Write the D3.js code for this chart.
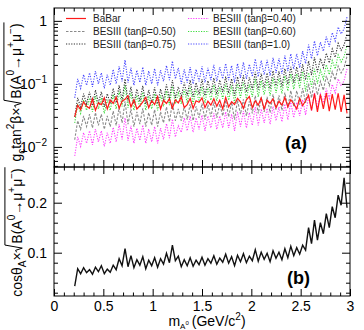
<!DOCTYPE html>
<html>
<head>
<meta charset="utf-8">
<script src="https://cdn.jsdelivr.net/npm/d3@7"></script>
<style>
  body { margin: 0; background: #fff; }
  svg { display: block; font-family: "Liberation Sans", Arial, sans-serif; }
  .axis path.domain { display: none; }
  .axis line { stroke: #000; }
  .axis text { font-size: 14px; fill: #000; font-family: "Liberation Sans", Arial, sans-serif; }
</style>
</head>
<body>
<script>
// mass points (GeV/c^2)
const masses = [
  0.21,0.24,0.27,0.30,0.33,0.36,0.39,0.42,0.45,0.48,
  0.51,0.54,0.57,0.60,0.63,0.66,0.69,0.72,0.75,0.78,
  0.81,0.84,0.87,0.90,0.93,0.96,0.99,1.02,1.05,1.08,
  1.11,1.14,1.17,1.20,1.23,1.26,1.29,1.32,1.35,1.38,
  1.41,1.44,1.47,1.50,1.53,1.56,1.59,1.62,1.65,1.68,
  1.71,1.74,1.77,1.80,1.83,1.86,1.89,1.92,1.95,1.98,
  2.01,2.04,2.07,2.10,2.13,2.16,2.19,2.22,2.25,2.28,
  2.31,2.34,2.37,2.40,2.43,2.46,2.49,2.52,2.55,2.58,
  2.61,2.64,2.67,2.70,2.73,2.76,2.79,2.82,2.85,2.88,
  2.91,2.94,2.97];

const babar = [
  0.030,0.046,0.039,0.052,0.044,0.041,0.058,0.038,0.050,0.047,
  0.060,0.040,0.055,0.049,0.062,0.041,0.053,0.057,0.065,0.043,
  0.056,0.040,0.045,0.052,0.061,0.042,0.054,0.047,0.063,0.040,
  0.055,0.049,0.058,0.041,0.056,0.050,0.062,0.042,0.047,0.059,
  0.041,0.054,0.051,0.060,0.042,0.053,0.046,0.058,0.044,0.055,
  0.040,0.061,0.043,0.052,0.047,0.059,0.052,0.041,0.056,0.063,
  0.042,0.054,0.046,0.060,0.040,0.055,0.049,0.058,0.042,0.053,
  0.046,0.061,0.043,0.056,0.048,0.040,0.059,0.045,0.054,0.066,
  0.038,0.070,0.036,0.068,0.040,0.072,0.037,0.069,0.039,0.071,
  0.036,0.067,0.034];

const besiii040 = [
  0.0072,0.0144,0.0102,0.0168,0.0114,0.018,0.0108,0.0192,0.012,0.018,
  0.0102,0.0168,0.0114,0.0204,0.012,0.0228,0.0132,0.0288,0.0126,0.0216,
  0.0114,0.0198,0.0126,0.0222,0.0114,0.0192,0.012,0.021,0.0114,0.0198,
  0.0132,0.0234,0.0138,0.0276,0.0144,0.0216,0.017,0.029,0.018,0.031,
  0.017,0.029,0.019,0.032,0.018,0.031,0.020,0.034,0.019,0.031,
  0.020,0.036,0.020,0.033,0.018,0.036,0.021,0.037,0.020,0.035,
  0.022,0.043,0.022,0.040,0.024,0.041,0.023,0.044,0.026,0.043,
  0.025,0.048,0.027,0.051,0.029,0.051,0.031,0.056,0.032,0.063,
  0.038,0.072,0.042,0.069,0.050,0.084,0.059,0.098,0.072,0.120,
  0.093,0.113,0.173];

const besiii050 = [
  0.013,0.026,0.019,0.031,0.021,0.033,0.020,0.035,0.022,0.033,
  0.019,0.031,0.021,0.037,0.022,0.042,0.024,0.053,0.023,0.040,
  0.021,0.036,0.023,0.041,0.021,0.035,0.022,0.039,0.021,0.036,
  0.024,0.043,0.025,0.051,0.026,0.040,0.026,0.044,0.027,0.048,
  0.026,0.044,0.029,0.049,0.027,0.047,0.030,0.052,0.029,0.048,
  0.031,0.055,0.030,0.051,0.027,0.055,0.033,0.057,0.031,0.053,
  0.034,0.065,0.034,0.061,0.036,0.062,0.035,0.068,0.039,0.066,
  0.038,0.073,0.042,0.078,0.044,0.078,0.047,0.086,0.050,0.101,
  0.060,0.115,0.067,0.110,0.079,0.134,0.094,0.156,0.115,0.192,
  0.149,0.180,0.276];

const besiii060 = [
  0.024,0.048,0.034,0.056,0.038,0.060,0.036,0.064,0.040,0.060,
  0.034,0.056,0.038,0.068,0.040,0.076,0.044,0.096,0.042,0.072,
  0.038,0.066,0.042,0.074,0.038,0.064,0.040,0.070,0.038,0.066,
  0.044,0.078,0.046,0.092,0.048,0.072,0.048,0.082,0.050,0.089,
  0.048,0.082,0.053,0.091,0.050,0.086,0.055,0.096,0.053,0.089,
  0.058,0.101,0.055,0.094,0.050,0.101,0.060,0.106,0.058,0.098,
  0.062,0.120,0.062,0.113,0.067,0.115,0.065,0.125,0.072,0.122,
  0.070,0.134,0.077,0.144,0.082,0.144,0.086,0.158,0.076,0.151,
  0.090,0.173,0.101,0.166,0.119,0.202,0.140,0.234,0.173,0.288,
  0.223,0.270,0.414];

const besiii075 = [
  0.030,0.060,0.043,0.070,0.048,0.075,0.045,0.080,0.050,0.075,
  0.043,0.070,0.048,0.085,0.050,0.095,0.055,0.120,0.053,0.090,
  0.048,0.083,0.053,0.093,0.048,0.080,0.050,0.088,0.048,0.083,
  0.055,0.098,0.058,0.115,0.060,0.090,0.062,0.105,0.065,0.115,
  0.062,0.105,0.068,0.118,0.065,0.112,0.071,0.124,0.068,0.115,
  0.074,0.130,0.071,0.121,0.065,0.130,0.078,0.136,0.074,0.127,
  0.081,0.155,0.081,0.146,0.087,0.149,0.084,0.161,0.093,0.158,
  0.090,0.174,0.099,0.186,0.105,0.186,0.112,0.205,0.116,0.231,
  0.138,0.264,0.154,0.253,0.182,0.308,0.215,0.358,0.264,0.440,
  0.341,0.413,0.633];

const besiii100 = [
  0.060,0.120,0.085,0.140,0.095,0.150,0.090,0.160,0.100,0.150,
  0.085,0.140,0.095,0.170,0.100,0.190,0.110,0.240,0.105,0.180,
  0.095,0.165,0.105,0.185,0.095,0.160,0.100,0.175,0.095,0.165,
  0.110,0.195,0.115,0.230,0.120,0.180,0.100,0.170,0.105,0.185,
  0.100,0.170,0.110,0.190,0.105,0.180,0.115,0.200,0.110,0.185,
  0.120,0.210,0.115,0.195,0.105,0.210,0.125,0.220,0.120,0.205,
  0.130,0.250,0.130,0.235,0.140,0.240,0.135,0.260,0.150,0.255,
  0.145,0.280,0.160,0.300,0.170,0.300,0.180,0.330,0.210,0.420,
  0.250,0.480,0.280,0.460,0.330,0.560,0.390,0.650,0.480,0.800,
  0.620,0.750,1.150];

// panel (b): cos(theta_A) x sqrt(B)
const cosLimit = [
  0.033,0.068,0.058,0.070,0.060,0.066,0.057,0.071,0.062,0.074,
  0.058,0.067,0.061,0.075,0.066,0.088,0.074,0.108,0.072,0.094,
  0.070,0.086,0.075,0.092,0.068,0.085,0.074,0.090,0.071,0.088,
  0.077,0.099,0.080,0.115,0.084,0.093,0.072,0.086,0.074,0.090,
  0.073,0.085,0.076,0.091,0.075,0.088,0.079,0.094,0.077,0.089,
  0.081,0.097,0.079,0.092,0.074,0.095,0.082,0.098,0.080,0.093,
  0.084,0.106,0.083,0.101,0.087,0.099,0.082,0.104,0.089,0.101,
  0.086,0.108,0.090,0.113,0.094,0.110,0.097,0.115,0.105,0.150,
  0.118,0.165,0.125,0.160,0.138,0.178,0.150,0.192,0.170,0.215,
  0.195,0.250,0.190];

const xTickLabels = [0, 0.5, 1, 1.5, 2, 2.5, 3];
const logTickLabels = [0.01, 0.1, 1];
const linTickLabels = [0.1, 0.2];

const seriesA = [
  {name: "BESIII (tan\u03b2=0.40)", values: besiii040, color: "#ff3cff", dash: "1.2,1.4", width: 1.1},
  {name: "BESIII (tan\u03b2=0.50)", values: besiii050, color: "#8a8a8a", dash: "2.5,1.5", width: 1.1},
  {name: "BESIII (tan\u03b2=0.60)", values: besiii060, color: "#3cdc3c", dash: "1.2,1.4", width: 1.1},
  {name: "BESIII (tan\u03b2=0.75)", values: besiii075, color: "#303030", dash: "1.2,1.4", width: 1.1},
  {name: "BESIII (tan\u03b2=1.0)",  values: besiii100, color: "#4646ff", dash: "1.2,1.4", width: 1.1},
  {name: "BaBar", values: babar, color: "#ff1a1a", dash: null, width: 1.2}
];

const width = 364, height = 330;
const left = 54, right = 350;
const topA = 8, botA = 167, topB = 167, botB = 296;

const svg = d3.select("body").append("svg")
  .attr("width", width)
  .attr("height", height);

svg.append("rect").attr("width", width).attr("height", height).attr("fill", "#fff");

const x = d3.scaleLinear().domain([0, 3]).range([left, right]);
const yA = d3.scaleLog().domain([0.0048, 1.6]).range([botA, topA]);
const yB = d3.scaleLinear().domain([0.0134, 0.2714]).range([botB, topB]);

const defs = svg.append("defs");
defs.append("clipPath").attr("id", "clipA").append("rect")
  .attr("x", left).attr("y", topA).attr("width", right - left).attr("height", botA - topA);
defs.append("clipPath").attr("id", "clipB").append("rect")
  .attr("x", left).attr("y", topB).attr("width", right - left).attr("height", botB - topB);

// ---- curves panel (a)
const lineA = d3.line().x(d => x(d[0])).y(d => yA(d[1]));
const gA = svg.append("g").attr("clip-path", "url(#clipA)");
seriesA.forEach(s => {
  gA.append("path")
    .datum(masses.map((m, i) => [m, s.values[i]]))
    .attr("d", lineA)
    .attr("fill", "none")
    .attr("stroke", s.color)
    .attr("stroke-width", s.width)
    .attr("stroke-dasharray", s.dash);
});

// ---- curve panel (b)
const lineB = d3.line().x(d => x(d[0])).y(d => yB(d[1]));
svg.append("g").attr("clip-path", "url(#clipB)")
  .append("path")
  .datum(masses.map((m, i) => [m, cosLimit[i]]))
  .attr("d", lineB)
  .attr("fill", "none")
  .attr("stroke", "#111")
  .attr("stroke-width", 1.4);

// ---- axes
const xMinor = d3.range(0, 3.001, 0.1).map(v => +v.toFixed(2)).filter(v => !xTickLabels.includes(v));

function xTicks(yPos, dir, labels) {
  // dir: +1 ticks pointing down, -1 pointing up
  const g = svg.append("g").attr("class", "axis").attr("transform", `translate(0,${yPos})`)
    .call(d3.axisBottom(x).tickValues(xTickLabels).tickSize(dir * 7).tickPadding(5)
      .tickFormat(labels ? d3.format("") : () => ""));
  svg.append("g").attr("class", "axis").attr("transform", `translate(0,${yPos})`)
    .call(d3.axisBottom(x).tickValues(xMinor).tickSize(dir * 3.5).tickFormat(() => ""));
  return g;
}
xTicks(topA, 1, false);
xTicks(botA, -1, false);
xTicks(topB, 1, false);
// labels of bottom axis sit below the line
xTicks(botB, -1, true).selectAll("text").attr("y", 5).attr("dy", "0.71em");

// log y axis of panel (a)
const logMinor = [];
[0.001, 0.01, 0.1].forEach(dec => { for (let k = 2; k <= 9; k++) logMinor.push(+(dec * k).toFixed(4)); });
const logMinorIn = logMinor.filter(v => v >= 0.0048 && v <= 1.6);

function yAxisPair(scale, major, minor, labelFn) {
  svg.append("g").attr("class", "axis").attr("transform", `translate(${left},0)`)
    .call(d3.axisLeft(scale).tickValues(major).tickSize(-8).tickPadding(7).tickFormat(() => ""))
    .selectAll("text").each(function(d) { labelFn(d3.select(this), d); });
  svg.append("g").attr("class", "axis").attr("transform", `translate(${left},0)`)
    .call(d3.axisLeft(scale).tickValues(minor).tickSize(-4).tickFormat(() => ""));
  svg.append("g").attr("class", "axis").attr("transform", `translate(${right},0)`)
    .call(d3.axisRight(scale).tickValues(major).tickSize(-8).tickFormat(() => ""));
  svg.append("g").attr("class", "axis").attr("transform", `translate(${right},0)`)
    .call(d3.axisRight(scale).tickValues(minor).tickSize(-4).tickFormat(() => ""));
}

yAxisPair(yA, logTickLabels, logMinorIn, (t, d) => {
  if (d === 1) { t.text("1"); return; }
  const e = Math.round(Math.log10(d));
  t.text("10");
  t.append("tspan").attr("font-size", "10px").attr("dy", "-0.6em").text("\u2212" + (-e));
});

const linMinor = d3.range(0.02, 0.27, 0.02).map(v => +v.toFixed(2)).filter(v => !linTickLabels.includes(v));
yAxisPair(yB, linTickLabels, linMinor, (t, d) => t.text(d3.format(".1f")(d)));

// frames
[[topA, botA], [topB, botB]].forEach(([t, b]) => {
  svg.append("rect").attr("x", left).attr("y", t).attr("width", right - left).attr("height", b - t)
    .attr("fill", "none").attr("stroke", "#000").attr("stroke-width", 1);
});

// ---- rich text helper (sub/superscripts and square root)
function richText(g, parts, size) {
  let cx = 0, sqrtX = null;
  parts.forEach(p => {
    if (p.sqrt === "start") { sqrtX = cx; cx += size * 0.62; return; }
    if (p.sqrt === "end") {
      const top = -size * 1.22;
      g.append("path")
        .attr("d", `M${sqrtX},${-size * 0.38} L${sqrtX + size * 0.14},${-size * 0.46} L${sqrtX + size * 0.3},${size * 0.02} L${sqrtX + size * 0.52},${top} L${cx + 1},${top}`)
        .attr("fill", "none").attr("stroke", "#000").attr("stroke-width", 1);
      cx += 1;
      return;
    }
    const fs = p.fs || size;
    const t = g.append("text").attr("x", cx).attr("y", p.dy || 0)
      .attr("font-size", fs + "px").attr("fill", "#000").text(p.t);
    cx += t.node().getComputedTextLength() + (p.gap || 0);
  });
  return cx;
}

function centeredLabel(transform, parts, size) {
  const outer = svg.append("g").attr("transform", transform);
  const inner = outer.append("g");
  const w = richText(inner, parts, size);
  inner.attr("transform", `translate(${-w / 2},0)`);
}

const sub = (t) => ({t, fs: 10, dy: 4});
const sup = (t) => ({t, fs: 10, dy: -7});

centeredLabel("translate(21,92) rotate(-90)", [
  {t: "g"}, sub("c"), {t: " tan"}, sup("2"), {t: "\u03b2\u00d7"},
  {sqrt: "start"}, {t: "B(A"}, sup("0"), {t: "\u2192\u03bc"}, sup("+"), {t: "\u03bc"}, sup("\u2212"), {t: ")"},
  {sqrt: "end"}
], 14);

centeredLabel("translate(22,232) rotate(-90)", [
  {t: "cos\u03b8"}, sub("A"), {t: "\u00d7"},
  {sqrt: "start"}, {t: "B(A"}, sup("0"), {t: "\u2192\u03bc"}, sup("+"), {t: "\u03bc"}, sup("\u2212"), {t: ")"},
  {sqrt: "end"}
], 14);

centeredLabel("translate(207,326)", [
  {t: "m"}, {t: "A", fs: 8, dy: 3}, {t: "0", fs: 6, dy: -1, gap: 3}, {t: "(GeV/c"}, {t: "2", fs: 10, dy: -6}, {t: ")"}
], 14);

// ---- panel tags
svg.append("text").attr("x", 285).attr("y", 149).attr("font-size", "18px").attr("font-weight", "bold").text("(a)");
svg.append("text").attr("x", 287).attr("y", 284).attr("font-size", "18px").attr("font-weight", "bold").text("(b)");

// ---- legend
const legendCols = [
  {x0: 66, x1: 86, tx: 93, items: [seriesA[5], seriesA[1], seriesA[3]]},
  {x0: 188, x1: 209, tx: 213, items: [seriesA[0], seriesA[2], seriesA[4]]}
];
const legendRows = [18.5, 31.5, 44];
legendCols.forEach(col => {
  col.items.forEach((s, i) => {
    svg.append("line").attr("x1", col.x0).attr("x2", col.x1)
      .attr("y1", legendRows[i]).attr("y2", legendRows[i])
      .attr("stroke", s.color).attr("stroke-width", s.width).attr("stroke-dasharray", s.dash);
    svg.append("text").attr("x", col.tx).attr("y", legendRows[i]).attr("dy", "0.35em")
      .attr("font-size", "10px").attr("fill", "#222").text(s.name);
  });
});
</script>
</body>
</html>
